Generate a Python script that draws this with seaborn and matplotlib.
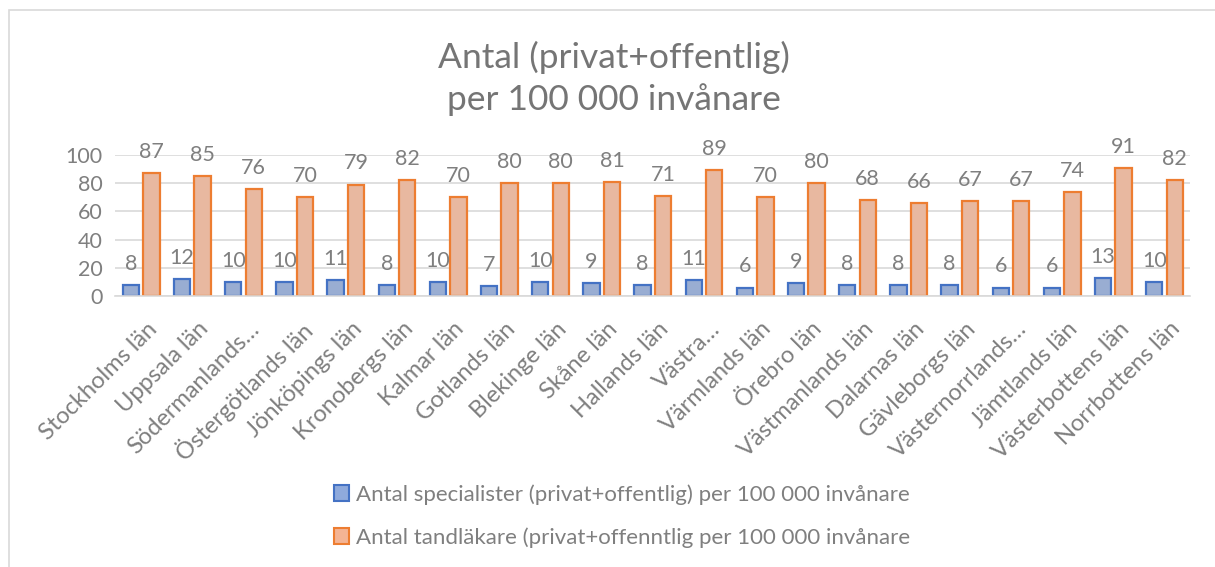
import pandas as pd
import seaborn as sns
import matplotlib.pyplot as plt
import matplotlib.transforms as mtransforms
from matplotlib.patches import Rectangle, Patch

# data
lan = ["Stockholms län", "Uppsala län", "Södermanlands…", "Östergötlands län",
       "Jönköpings län", "Kronobergs län", "Kalmar län", "Gotlands län",
       "Blekinge län", "Skåne län", "Hallands län", "Västra…",
       "Värmlands län", "Örebro län", "Västmanlands län", "Dalarnas län",
       "Gävleborgs län", "Västernorrlands…", "Jämtlands län",
       "Västerbottens län", "Norrbottens län"]
specialister = [8, 12, 10, 10, 11, 8, 10, 7, 10, 9, 8, 11, 6, 9, 8, 8, 8, 6, 6, 13, 10]
tandlakare = [87, 85, 76, 70, 79, 82, 70, 80, 80, 81, 71, 89, 70, 80, 68, 66, 67, 67, 74, 91, 82]

serie_namn = ["Antal specialister (privat+offentlig) per 100 000 invånare",
              "Antal tandläkare (privat+offenntlig per 100 000 invånare"]

sns.set_theme(style="white")
plt.rcParams['font.family'] = ['Lato', 'DejaVu Sans']

grey = "#7f7f7f"
fills = ["#8faadc", "#f4b494"]
edges = ["#4472c4", "#ed7d31"]

df = pd.DataFrame({
    "lan": lan * 2,
    "varde": specialister + tandlakare,
    "serie": [serie_namn[0]] * len(lan) + [serie_namn[1]] * len(lan),
})

fig = plt.figure(figsize=(12.15, 5.67), dpi=100)
ax = fig.add_axes([0.0947, 0.478, 0.8848, 0.2487])

sns.barplot(data=df, x="lan", y="varde", hue="serie", hue_order=serie_namn,
            palette=fills, width=0.8, gap=0.2, ax=ax, legend=False)

# colour edges and add value labels
for cont, ec in zip(ax.containers, edges):
    for bar in cont:
        bar.set_edgecolor(ec)
        bar.set_linewidth(1.6)
    ax.bar_label(cont, labels=[str(int(b.get_height())) for b in cont],
                 padding=8, fontsize=15.5, color=grey)

ax.set_ylim(0, 100)
ax.set_xlim(-0.51, 20.5)
ax.set_yticks([0, 20, 40, 60, 80, 100])
ax.yaxis.grid(True, color="#d9d9d9", linewidth=1.2)
ax.set_axisbelow(True)
for s in ["top", "right", "left"]:
    ax.spines[s].set_visible(False)
ax.spines["bottom"].set_color("#d9d9d9")
ax.spines["bottom"].set_linewidth(1.2)
ax.set_xlabel("")
ax.set_ylabel("")
ax.tick_params(axis="y", labelsize=15.5, labelcolor=grey, length=0, pad=9)
ax.tick_params(axis="x", labelsize=17, labelcolor=grey, length=0, pad=16)
shift = mtransforms.ScaledTranslation(0.05, 0, fig.dpi_scale_trans)
for lbl in ax.get_xticklabels():
    lbl.set_rotation(45)
    lbl.set_ha("right")
    lbl.set_rotation_mode("anchor")
    lbl.set_transform(lbl.get_transform() + shift)

fig.text(0.505, 0.862, "Antal (privat+offentlig)\nper 100 000 invånare",
         ha="center", va="center", fontsize=25.5, color="#757575", linespacing=1.35)

handles = [Patch(facecolor=f, edgecolor=e, linewidth=1.5) for f, e in zip(fills, edges)]
fig.legend(handles, serie_namn, loc="center", bbox_to_anchor=(0.512, 0.09),
           ncol=1, frameon=False, fontsize=16, labelcolor=grey,
           handlelength=0.7, handleheight=0.7, handletextpad=0.3, labelspacing=1.0)

# chart frame
fig.add_artist(Rectangle((9 / 1215, -0.1), 1.2, 0.1 + (567 - 10) / 567,
                         transform=fig.transFigure, fill=False,
                         edgecolor="#d9d9d9", linewidth=1.2))

fig.savefig("out.png", dpi=100)
